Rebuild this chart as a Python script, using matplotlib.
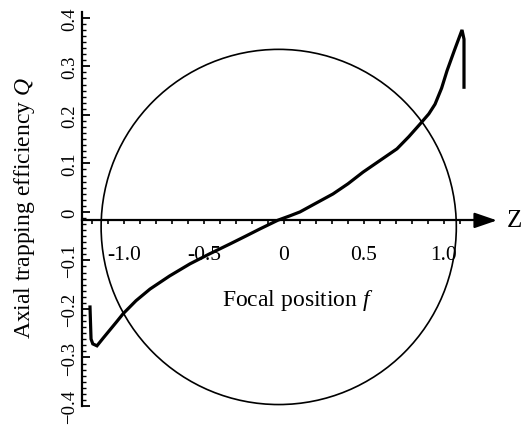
import matplotlib
matplotlib.use("Agg")
import matplotlib.pyplot as plt
from matplotlib.patches import Ellipse
from matplotlib.ticker import FixedLocator

plt.rcParams["font.family"] = ["Liberation Serif", "DejaVu Serif"]
plt.rcParams["mathtext.fontset"] = "custom"
plt.rcParams["mathtext.rm"] = "Liberation Serif"
plt.rcParams["mathtext.it"] = "Liberation Serif:italic"

# Axial trapping efficiency Q against focal position f
focal_pos = [-1.2125, -1.206, -1.195, -1.169, -1.13, -1.0875, -1.045, -1.006,
             -0.925, -0.8375, -0.715, -0.5875, -0.4625, -0.3375, -0.24,
             -0.15, -0.0375, 0.0375, 0.1, 0.2, 0.306, 0.4, 0.494, 0.6, 0.706,
             0.78, 0.85, 0.905, 0.944, 0.985, 1.019, 1.065, 1.1125, 1.125,
             1.125]
efficiency = [-0.196, -0.262, -0.272, -0.276, -0.260, -0.243, -0.226, -0.210,
              -0.183, -0.159, -0.132, -0.107, -0.086, -0.066, -0.050,
              -0.035, -0.017, -0.008, 0.000, 0.018, 0.037, 0.058, 0.082,
              0.106, 0.130, 0.155, 0.181, 0.202, 0.222, 0.255, 0.291, 0.333,
              0.375, 0.356, 0.257]

q_ticks = [-0.4, -0.3, -0.2, -0.1, 0.0, 0.1, 0.2, 0.3, 0.4]
q_tick_labels = ["\u22120.4", "\u22120.3", "\u22120.2", "\u22120.1", "0",
                 "0.1", "0.2", "0.3", "0.4"]
f_ticks = [-1.0, -0.5, 0.0, 0.5, 1.0]
f_tick_labels = ["-1.0", "-0.5", "0", "0.5", "1.0"]
f_minor_ticks = [-1.2, -1.1, -0.9, -0.8, -0.7, -0.6, -0.4, -0.3, -0.2, -0.1,
                 0.1, 0.2, 0.3, 0.4, 0.6, 0.7, 0.8, 0.9, 1.1, 1.2]

# outline of the particle sphere around the focus
sphere_center = (-0.033, -0.031)
sphere_width, sphere_height = 2.22, 0.732
z_level = -0.0175

W, H = 525, 431
fig = plt.figure(figsize=(W / 100, H / 100), dpi=100)
ax = fig.add_axes([82 / W, 1 - 407 / H, (W - 82) / W, 394 / H])
ax.set_xlim(-1.2625, 1.50625)
ax.set_ylim(-0.4, 0.412)
ax.patch.set_alpha(0)

for side in ("top", "right"):
    ax.spines[side].set_visible(False)
ax.spines["left"].set_linewidth(1.6)
ax.spines["left"].set_bounds(-0.4, 0.412)
ax.spines["bottom"].set_position(("data", z_level))
ax.spines["bottom"].set_bounds(-1.2625, 1.22)
ax.spines["bottom"].set_linewidth(1.6)

ax.yaxis.set_major_locator(FixedLocator(q_ticks))
ax.yaxis.set_minor_locator(FixedLocator(
    [round(-0.4 + 0.0125 * i, 4) for i in range(66)]))
ax.set_yticklabels(q_tick_labels, rotation=90, va="center")
ax.tick_params(axis="y", which="major", direction="in", length=6, width=1.3,
               pad=3, labelsize=13.5)
ax.tick_params(axis="y", which="minor", direction="in", length=3, width=1.0)

ax.xaxis.set_major_locator(FixedLocator(f_ticks))
ax.xaxis.set_minor_locator(FixedLocator(f_minor_ticks))
ax.set_xticklabels(f_tick_labels)
ax.tick_params(axis="x", which="both", direction="out", length=3, width=1.2,
               pad=15, labelsize=15.5)

ax.annotate("", xy=(1.331, z_level), xytext=(1.2, z_level),
            arrowprops=dict(arrowstyle="-|>,head_length=1.37,head_width=0.47",
                            mutation_scale=10, lw=1.6, color="black",
                            shrinkA=0, shrinkB=0))

ax.add_patch(Ellipse(sphere_center, sphere_width, sphere_height,
                     fill=False, lw=1.2, ec="black"))
ax.plot(focal_pos, efficiency, color="black", lw=2.3,
        solid_joinstyle="miter", clip_on=False)

ax.text(1.4375, z_level, "Z", fontsize=18, ha="center", va="center")
fig.text(298 / W, 1 - 306 / H, "Focal position $f$", ha="center",
         va="baseline", fontsize=17)
fig.text(25 / W, 1 - 208 / H, "Axial trapping efficiency $Q$", rotation=90,
         ha="center", va="center", fontsize=17)

fig.savefig("out.png", dpi=100)
